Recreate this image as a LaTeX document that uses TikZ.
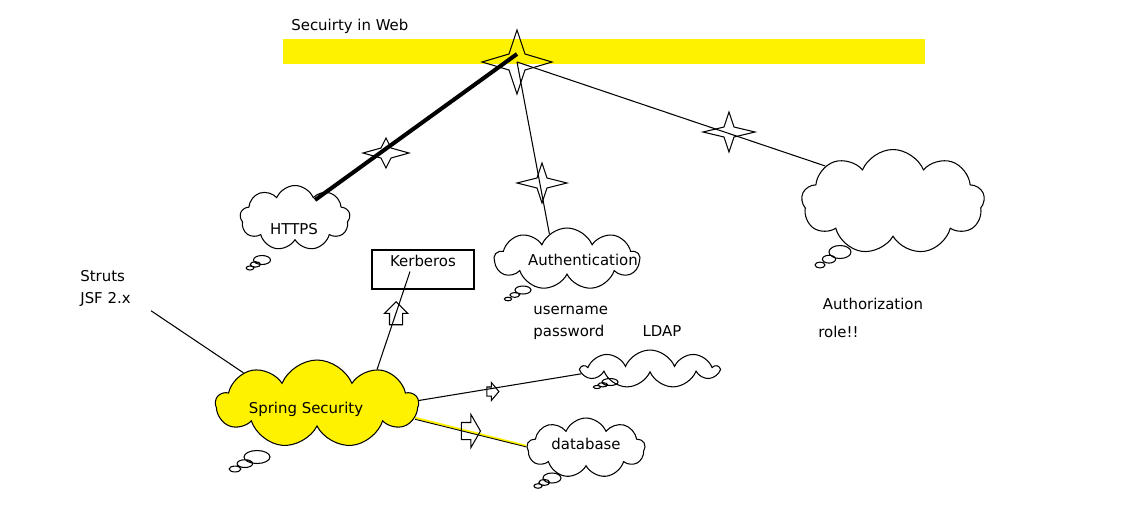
\documentclass[tikz,border=0pt]{standalone}
\usepackage{fontspec}
\setmainfont{DejaVu Sans}
\usetikzlibrary{calc,shapes.symbols,shapes.arrows}
\definecolor{marker}{RGB}{255,242,0}
\def\sparkle[#1](#2)(#3:#4:#5){\draw[#1] ($(#2)+(#3,0)$) -- ($(#2)+(#5,#5)$) -- ($(#2)+(0,#4)$) -- ($(#2)+(-#5,#5)$) -- ($(#2)+(-#3,0)$) -- ($(#2)+(-#5,-#5)$) -- ($(#2)+(0,-#4)$) -- ($(#2)+(#5,-#5)$) -- cycle;}
\def\bubbles[#1](#2)(#3)(#4:#5){\draw[#1] ($(#2)!0.55!(#3)$) ellipse ({0.6*#4} and {0.6*#5}) (#3) ellipse ({0.45*#4} and {0.45*#5}) (#2) ellipse ({#4} and {#5});}
\tikzset{
	wire/.style={line width=0.6pt},
	heavy/.style={line width=2.3pt},
	puff/.style={line width=0.6pt, fill=white},
	thought/.style={cloud, draw, line width=0.6pt, cloud puffs=9, cloud puff arc=135, cloud ignores aspect, inner sep=0pt},
	box/.style={draw, rectangle, line width=0.6pt, inner sep=0pt},
	hollow/.style={single arrow, draw, line width=0.6pt, inner xsep=0pt, single arrow head indent=0pt},
	every node/.style={font=\fontsize{8.5}{12.5}\selectfont}
}
\begin{document}
\begin{tikzpicture}[x=0.2mm, y=-0.2mm]
			%%%%% START %%%%%
			\useasboundingbox (0,0) rectangle (1145,508);
			
			\fill[marker] (283,39) rectangle (925,64);
			\node[anchor=west, inner sep=0pt] (title) at (291,26) {Secuirty in Web};
			
			\coordinate (hub) at (517,62);
			\coordinate (s1) at (386,153);
			\coordinate (s2) at (542,183);
			\coordinate (s3) at (729,132);
			
			% thought bubbles below the clouds
			\bubbles[puff](262,260)(250,268)(8.5:4.5);
			\bubbles[puff](523,290)(508,299)(8:4);
			\bubbles[puff](840,252)(820,265)(11:6.5);
			\bubbles[puff](257,457)(235,469)(13:6.5);
			\bubbles[puff](610,382)(597,387)(8:3.5);
			\bubbles[puff](552,478)(538,486)(9:5);
			
			\node[thought, minimum width=22mm, minimum height=13mm, label={[xshift=-0.2mm, yshift=-2.2mm, inner sep=0pt]center:HTTPS}] (https) at (295,218) {};
			\node[thought, minimum width=29mm, minimum height=12.4mm, label={[xshift=3.2mm, yshift=-0.2mm, inner sep=0pt]center:Authentication}] (auth) at (567,259) {};
			\node[thought, minimum width=36.6mm, minimum height=21mm] (authz) at (893,202) {};
			\node[thought, fill=marker, minimum width=40.4mm, minimum height=17.6mm] (spring) at (317,404) {};
			\node[thought, minimum width=27.2mm, minimum height=7.6mm] (ldap) at (650,369) {};
			\node[thought, minimum width=23.6mm, minimum height=12mm, label={[yshift=0.8mm, inner sep=0pt]center:database}] (db) at (586,448) {};
			\node[box, minimum width=20.4mm, minimum height=7.8mm, label={[anchor=north, yshift=-1mm, inner sep=0pt]north:Kerberos}] (kerb) at (423,269.5) {};
			\node[inner sep=0pt] (springtext) at (306,409) {Spring Security};
			
			\node[anchor=north west, align=left, inner sep=0pt] (struts) at (80,270) {Struts\\JSF 2.x};
			\node[anchor=north west, align=left, inner sep=0pt] (cred) at (533,306) {username\\password};
			\node[inner sep=0pt] (ldaptext) at (662,331) {LDAP};
			\node[inner sep=0pt] (authztext) at (873,304) {Authorization};
			\node[anchor=north west, inner sep=0pt] (role) at (818,326) {role!!};
			
			\sparkle[wire](hub)(35:32:8);
			\sparkle[wire](s1)(23:15:5);
			\sparkle[wire](s2)(25:20:5);
			\sparkle[wire](s3)(26:20:5);
			
			\draw[heavy] ([yshift=1.6mm]hub) -- ($(https.center)+(20,-18)$);
			\draw[wire] (hub) -- (auth.125);
			\draw[wire] (hub) -- (authz.152);
			
			\draw[wire] ([xshift=4mm, yshift=-0.8mm]struts.south east) -- (spring.157);
			\draw[wire] ($(kerb.center)+(-13,2)$) -- (spring.30);
			\draw[wire] (spring.2) -- (ldap.184);
			\draw[line width=1.2pt, marker] (spring.-8) -- (db.178);
			\draw[line width=0.5pt] ([yshift=-0.3mm]spring.-8) -- ([yshift=-0.2mm]db.178);
			
			\node[hollow, rotate=90, minimum height=4.6mm, inner ysep=1.2mm, single arrow head extend=1mm] (kerbarrow) at (396,316.5) {};
			\node[hollow, minimum height=2.4mm, inner ysep=0.8mm, single arrow head extend=0.9mm, single arrow tip angle=100] (ldaparrow) at (491,391.5) {};
			\node[hollow, minimum height=3.8mm, inner ysep=1.6mm, single arrow head extend=1.6mm, single arrow tip angle=120] (dbarrow) at (468.5,431) {};
			
			%%%%% END %%%%%
\end{tikzpicture}
\end{document}
